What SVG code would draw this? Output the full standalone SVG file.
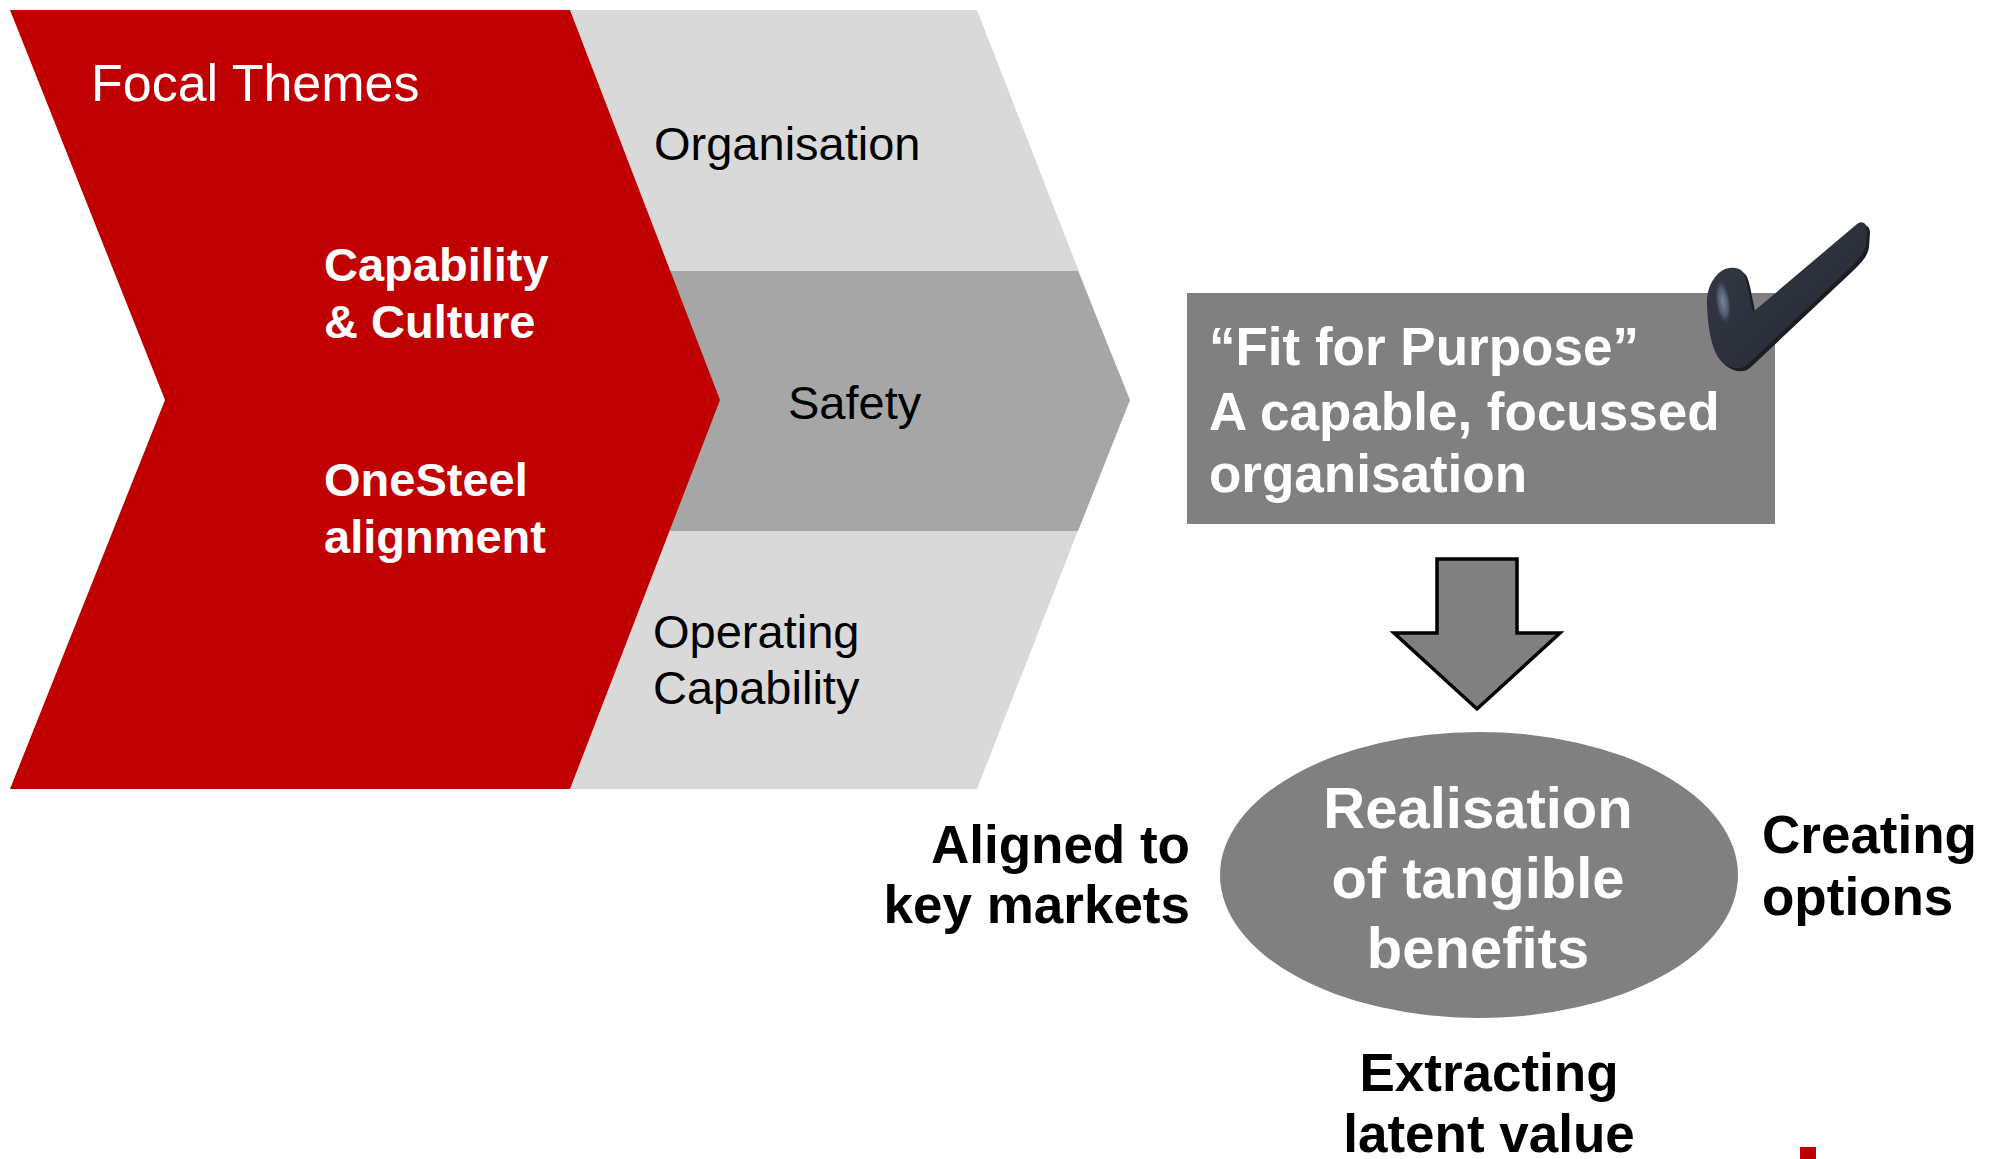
<svg xmlns="http://www.w3.org/2000/svg" width="1999" height="1159" viewBox="0 0 1999 1159">
  <style>
    .sans { font-family: "Liberation Sans", Arial, sans-serif; }
    .w { fill: #ffffff; }
    .b { font-weight: bold; }
    .theme { font-size: 47px; fill: #000000; }
    .focal { font-size: 47px; font-weight: bold; fill: #ffffff; }
    .lbl { font-size: 53px; font-weight: bold; fill: #000000; }
  </style>
  <defs>
    <radialGradient id="tickShine" cx="0.5" cy="0.5" r="0.5">
      <stop offset="0" stop-color="#77839b"/>
      <stop offset="0.6" stop-color="#4f5a6e"/>
      <stop offset="1" stop-color="#2b2f3b" stop-opacity="0"/>
    </radialGradient>
    <linearGradient id="tickBody" x1="0" y1="0" x2="1" y2="1">
      <stop offset="0" stop-color="#343946"/>
      <stop offset="1" stop-color="#252932"/>
    </linearGradient>
  </defs>

  <rect width="1999" height="1159" fill="#ffffff"/>

  <!-- themes chevron (grey, behind) -->
  <g id="themes-chevron">
    <polygon points="570,10 977,10 1129,400 977,789 570,789 720,400" fill="#d9d9d9"/>
    <polygon points="660,271 1078,271 1130,400 1078,531 660,531" fill="#a6a6a6"/>
    <text class="sans theme" x="654" y="160">Organisation</text>
    <text class="sans theme" x="788" y="419">Safety</text>
    <text class="sans theme" x="653" y="648">Operating</text>
    <text class="sans theme" x="653" y="704">Capability</text>
  </g>

  <!-- focal themes chevron (red) -->
  <g id="focal-chevron">
    <polygon points="10,10 570,10 720,400 570,789 10,789 165,400" fill="#c00000"/>
    <text class="sans w" x="91" y="101" font-size="52">Focal Themes</text>
    <text class="sans focal" x="324" y="281">Capability</text>
    <text class="sans focal" x="324" y="338">&amp; Culture</text>
    <text class="sans focal" x="324" y="496">OneSteel</text>
    <text class="sans focal" x="324" y="553">alignment</text>
  </g>

  <!-- outcome box -->
  <g id="fit-for-purpose">
    <rect x="1187" y="293" width="588" height="231" fill="#808080"/>
    <text class="sans w b" font-size="53" x="1209" y="365">“Fit for Purpose”</text>
    <text class="sans w b" font-size="53" x="1209" y="430">A capable, focussed</text>
    <text class="sans w b" font-size="53" x="1209" y="492">organisation</text>
  </g>

  <!-- tick mark -->
  <g id="tick">
    <path d="M 1723,275 C 1729,270 1741,269 1746,275 C 1750,281 1752,299 1756,315 L 1860,227 C 1865,223 1870,226 1870,233 L 1869,247 C 1868,255 1863,261 1855,269 L 1751,367 C 1745,373 1735,373 1725,365 C 1715,355 1711,333 1710,308 C 1709,293 1715,282 1723,275 Z" fill="#1b1d23"/>
    <path d="M 1720,272 C 1726,267 1738,266 1743,272 C 1747,278 1749,296 1753,312 L 1857,224 C 1862,220 1867,223 1867,230 L 1866,244 C 1865,252 1860,258 1852,266 L 1748,364 C 1742,370 1732,370 1722,362 C 1712,352 1708,330 1707,305 C 1706,290 1712,279 1720,272 Z" fill="url(#tickBody)"/>
    <ellipse cx="1723" cy="302" rx="8" ry="24" transform="rotate(-8 1723 302)" fill="url(#tickShine)"/>
  </g>

  <!-- connectors -->
  <g id="connectors">
    <polygon points="1437,559 1517,559 1517,633 1560,633 1477,709 1394,633 1437,633" fill="#808080" stroke="#000000" stroke-width="3.5" stroke-linejoin="miter"/>
  </g>

  <!-- benefits ellipse -->
  <g id="benefits">
    <ellipse cx="1479" cy="875" rx="259" ry="143" fill="#808080"/>
    <text class="sans w b" font-size="58" x="1478" y="828" text-anchor="middle">Realisation</text>
    <text class="sans w b" font-size="58" x="1478" y="898" text-anchor="middle">of tangible</text>
    <text class="sans w b" font-size="58" x="1478" y="968" text-anchor="middle">benefits</text>
  </g>

  <g id="label-markets">
    <text class="sans lbl" x="1190" y="863" text-anchor="end">Aligned to</text>
    <text class="sans lbl" x="1190" y="923" text-anchor="end">key markets</text>
  </g>

  <g id="label-options">
    <text class="sans lbl" x="1762" y="853">Creating</text>
    <text class="sans lbl" x="1762" y="915">options</text>
  </g>

  <g id="label-latent">
    <text class="sans lbl" x="1489" y="1091" text-anchor="middle">Extracting</text>
    <text class="sans lbl" x="1489" y="1152" text-anchor="middle">latent value</text>
  </g>

  <!-- footer mark -->
  <rect x="1800" y="1147" width="16" height="12" fill="#c00000"/>
</svg>
